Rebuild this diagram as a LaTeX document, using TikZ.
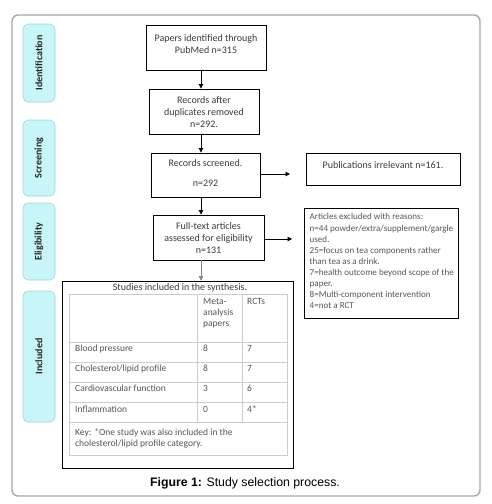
\documentclass[tikz,border=0pt]{standalone}
\usepackage{fontspec}
\setmainfont{Carlito}
\newfontfamily\arialf{Liberation Sans}
\usetikzlibrary{arrows.meta}
\definecolor{framegray}{HTML}{A8A8A8}
\definecolor{sidefill}{HTML}{C8F5F8}
\definecolor{sidedraw}{HTML}{A0D4DA}
\definecolor{txt}{HTML}{3A3A3A}
\definecolor{tbltxt}{HTML}{555555}
\definecolor{tblline}{HTML}{CCCCCC}
\begin{document}
\begin{tikzpicture}[x=1pt,y=-1pt,
  flowbox/.style={draw=black, line width=0.9pt, rectangle, inner sep=0pt},
  flowtext/.style={inner sep=0pt, align=center, text=txt, font=\fontsize{10}{12.4}\selectfont},
  sidebox/.style={draw=sidedraw, fill=sidefill, rounded corners=5pt, line width=0.6pt,
    inner sep=0pt, minimum width=32pt},
  sidetext/.style={rotate=90, text=black!85, font=\bfseries\fontsize{10}{12}\selectfont},
  flowarrow/.style={-{Triangle[length=4.5pt,width=4.5pt]}, line width=0.9pt},
  tcell/.style={anchor=mid west, inner sep=0pt, text=tbltxt, font=\fontsize{9.5}{11}\selectfont},
  tline/.style={draw=tblline, line width=0.6pt}
]
\useasboundingbox (0,0) rectangle (491,504);
% outer frame
\draw[framegray, line width=1.4pt, rounded corners=6pt] (12,15) rectangle (480,496);

% side labels
\node[sidebox, minimum height=78pt] (sid) at (39,63) {};
\node[sidetext] at (sid) {Identification};
\node[sidebox, minimum height=76pt] (sscr) at (39,158) {};
\node[sidetext] at (sscr) {Screening};
\node[sidebox, minimum height=77pt] (selig) at (39,241.5) {};
\node[sidetext] at (selig) {Eligibility};
\node[sidebox, minimum height=131pt] (sinc) at (39,356.5) {};
\node[sidetext] at (sinc) {Included};

% flow boxes
\node[flowbox, minimum width=120pt, minimum height=45pt] (b1) at (206,47.5) {};
\node[flowtext] (t1) at (206,44) {Papers identified through\\PubMed n=315};
\node[flowbox, minimum width=110pt, minimum height=45pt] (b2) at (204,111.5) {};
\node[flowtext] (t2) at (204,112) {Records after\\duplicates removed\\n=292.};
\node[flowbox, minimum width=109pt, minimum height=44pt] (b3) at (205.5,175) {};
\node[flowtext] (t3) at (205.5,173) {Records screened.\\[7pt]n=292};
\node[flowbox, minimum width=111pt, minimum height=45pt] (b4) at (208.5,237.5) {};
\node[flowtext] (t4) at (208.5,238) {Full-text articles\\assessed for eligibility\\n=131};
\node[flowbox, minimum width=154pt, minimum height=32pt] (pub) at (383,169) {};
\node[flowtext] (tp) at (383,165) {Publications irrelevant n=161.};
\node[flowbox, minimum width=154pt, minimum height=110pt] (exc) at (381,263) {};
\node[anchor=north west, inner sep=0pt, align=left, text=tbltxt,
  font=\fontsize{9.05}{11.1}\selectfont] (exctext) at (309.5,213.5)
  {Articles excluded with reasons:\\
   n=44 powder/extra/supplement/gargle\\
   used.\\
   25=focus on tea components rather\\
   than tea as a drink.\\
   7=health outcome beyond scope of the\\
   paper.\\
   8=Multi-component intervention\\
   4=not a RCT};

% table box
\node[flowbox, minimum width=231pt, minimum height=187pt] (tbl) at (177.5,374.5) {};
\node[inner sep=0pt, text=txt, font=\fontsize{10}{12}\selectfont] (ttitle) at (180,287.5) {Studies included in the synthesis.};
\draw[tline] (69,294) rectangle (287,455);
\foreach \yy in {342,362,382,402,422} \draw[tline] (69,\yy) -- (287,\yy);
\draw[tline] (197,294) -- (197,422);
\draw[tline] (242,294) -- (242,422);
\node[tcell] (mh1) at (203,302) {Meta-};
\node[tcell] (mh2) at (203,313) {analysis};
\node[tcell] (mh3) at (203,324) {papers};
\node[tcell] (rh) at (247,302) {RCTs};
\node[tcell] (r1) at (75,349) {Blood pressure};
\node[tcell] (r1a) at (203,349) {8};
\node[tcell] (r1b) at (247,349) {7};
\node[tcell] (r2) at (75,369) {Cholesterol/lipid profile};
\node[tcell] (r2a) at (203,369) {8};
\node[tcell] (r2b) at (247,369) {7};
\node[tcell] (r3) at (75,389) {Cardiovascular function};
\node[tcell] (r3a) at (203,389) {3};
\node[tcell] (r3b) at (247,389) {6};
\node[tcell] (r4) at (75,410) {Inflammation};
\node[tcell] (r4a) at (203,410) {0};
\node[tcell] (r4b) at (247,410) {4*};
\node[tcell] (k1) at (75,433) {Key: *One study was also included in the};
\node[tcell] (k2) at (75,444) {cholesterol/lipid profile category.};

% connectors
\coordinate (ax) at (201,0);
\draw[flowarrow] (b1.south -| ax) -- (b2.north -| ax);
\draw[flowarrow] (b2.south -| ax) -- (b3.north -| ax);
\draw[flowarrow] (b3.south -| ax) -- (b4.north -| ax);
\draw[-{Triangle[length=4.5pt,width=4.5pt]}, draw=gray, line width=0.6pt] (b4.south -| ax) -- (tbl.north -| ax);
\coordinate (e1) at (290,174);
\coordinate (e2) at (292,239);
\draw[flowarrow] (b3.east |- e1) -- (e1);
\draw[flowarrow] (b4.east |- e2) -- (e2);

% caption
\node[inner sep=0pt, font=\arialf\fontsize{12.3}{14}\selectfont] (cap) at (245,483)
  {\textbf{Figure 1:} Study selection process.};
\end{tikzpicture}
\end{document}
